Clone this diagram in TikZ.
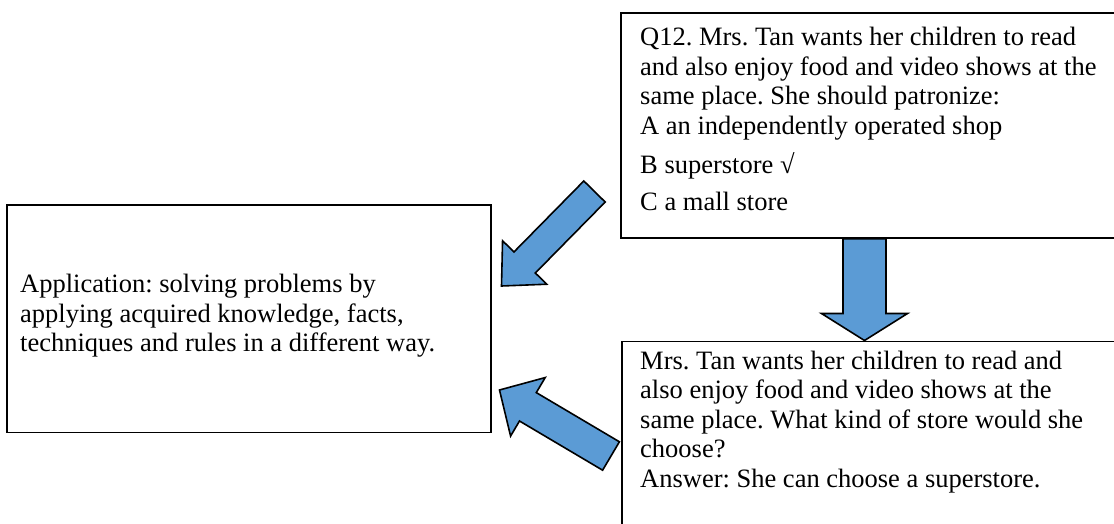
\documentclass[tikz,border=0pt]{standalone}
\usepackage{fontspec}
\setmainfont{Liberation Serif}
\usetikzlibrary{calc}
\definecolor{arrowblue}{HTML}{5B9BD5}
\newcommand\firststrut{\rule{0pt}{20pt}}
\tikzset{
  boxstyle/.style={draw=black, line width=1.8pt, rectangle, inner sep=0pt, anchor=north west},
  txt/.style={anchor=north west, inner sep=0pt, align=left, font=\fontsize{26.5}{29.5}\selectfont\frenchspacing},
  blockarrow/.style={draw=black, fill=arrowblue, line width=1.6pt, line join=miter},
}
\newcommand\blockarr[5]{%
  \coordinate (ba-b) at ($(#2)!#5!(#1)$);
  \path[blockarrow] ($(#1)!#3!90:(#2)$) -- ($(ba-b)!#3!-90:(#1)$) -- ($(ba-b)!#4!-90:(#1)$) -- (#2) -- ($(ba-b)!#4!90:(#1)$) -- ($(ba-b)!#3!90:(#1)$) -- ($(#1)!#3!-90:(#2)$) -- cycle;
}
\begin{document}
\begin{tikzpicture}[x=1pt,y=1pt]
\useasboundingbox (0,0) rectangle (1114,523);
\fill[white] (0,0) rectangle (1114,523);
\clip (0,0) rectangle (1114,523);
% boxes
\node[boxstyle, minimum width=484pt, minimum height=227pt] (app) at (6,318.5) {};
\node[boxstyle, minimum width=520pt, minimum height=225pt] (q) at (620,511) {};
\node[boxstyle, minimum width=520pt, minimum height=220pt] (ex) at (621,182.5) {};
% texts
\node[txt] (qt) at (640,497.5) {\firststrut Q12. Mrs. Tan wants her children to read\\ and also enjoy food and video shows at the\\ same place. She should patronize:\\ A an independently operated shop\\[10pt] B superstore √\\[7pt] C a mall store};
\node[txt] (ext) at (640,174) {\firststrut Mrs. Tan wants her children to read and\\ also enjoy food and video shows at the\\ same place. What kind of store would she\\ choose?\\ Answer: She can choose a superstore.};
\node[txt] (appt) at (20,250.5) {\firststrut Application: solving problems by\\ applying acquired knowledge, facts,\\ techniques and rules in a different way.};
% arrows
\coordinate (a1s) at (594.5,331.5);
\coordinate (a1e) at (501.5,237);
\coordinate (a2s) at (611,67);
\coordinate (a2e) at (499.5,133);
\coordinate (a3s) at (q.south -| 864.5,0);
\coordinate (a3e) at (ex.north -| 864.5,0);
\blockarr{a1s}{a1e}{15pt}{31pt}{33pt}
\blockarr{a2s}{a2e}{16.5pt}{34pt}{33pt}
\blockarr{a3s}{a3e}{21.5pt}{43pt}{27pt}
\end{tikzpicture}
\end{document}
